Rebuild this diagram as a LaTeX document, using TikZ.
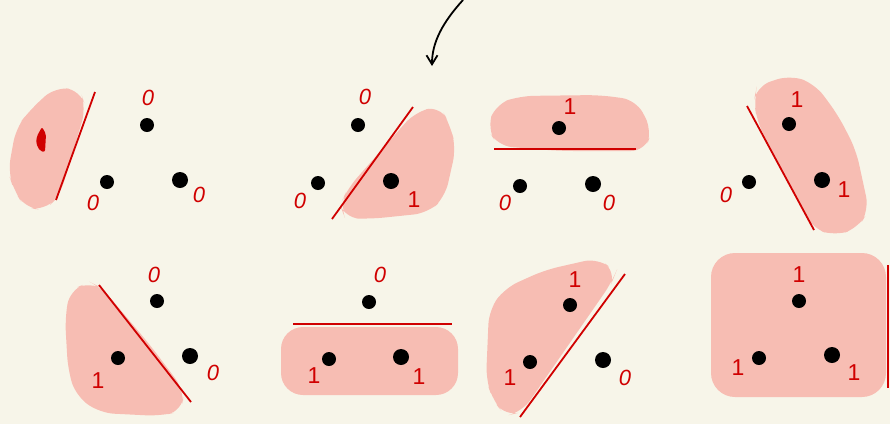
\documentclass[tikz,border=0pt]{standalone}
\usepackage{fontspec}
\setmainfont{Liberation Sans}
\usetikzlibrary{arrows.meta}

\definecolor{paper}{HTML}{F7F5E9}
\definecolor{blush}{HTML}{F7BDB3}
\definecolor{ink}{HTML}{D00000}

\begin{document}
\begin{tikzpicture}[
    x=1pt, y=-1pt,
    dot/.style={circle, fill=black, inner sep=0pt, minimum size=14pt},
    bigdot/.style={dot, minimum size=16pt},
    zero/.style={text=ink, inner sep=0pt, font=\fontsize{22}{22}\selectfont\itshape},
    one/.style={text=ink, inner sep=0pt, font=\fontsize{23}{23}\selectfont},
    cut/.style={draw=ink, line width=1.8pt},
    region/.style={fill=blush, rounded corners=14pt},
    arrow/.style={-{Straight Barb[length=9pt, width=11pt]}, line width=1.8pt, draw=black}
]
\fill[paper] (0,0) rectangle (890,424);
\useasboundingbox (0,0) rectangle (890,424);

% shaded half-planes
\fill[region] (30,110) -- (55,87) -- (80,90) -- (86,108) -- (60,195) -- (45,210) -- (25,208) -- (14,190) -- (8,172) -- (16,128) -- cycle;
\fill[region] (340,205) -- (348,188) -- (415,112) -- (440,106) -- (450,125) -- (456,148) -- (445,197) -- (428,213) -- (370,219) -- (345,218) -- cycle;
\fill[region] (496,104) -- (520,96) -- (600,95) -- (636,100) -- (652,130) -- (645,151) -- (560,151) -- (498,146) -- (487,128) -- cycle;
\fill[region] (757,86) -- (790,75) -- (815,84) -- (838,115) -- (856,150) -- (869,210) -- (858,228) -- (835,236) -- (812,228) -- (785,175) -- (757,122) -- (754,100) -- cycle;
\fill[region] (70,290) -- (90,282) -- (102,288) -- (150,345) -- (184,390) -- (182,411) -- (160,416) -- (100,413) -- (76,396) -- (68,370) -- (65,318) -- cycle;
\fill[region, rounded corners=22pt] (281,327) -- (458,327) -- (458,395) -- (281,395) -- cycle;
\fill[region] (505,288) -- (545,270) -- (598,258) -- (616,272) -- (612,282) -- (522,412) -- (505,416) -- (493,400) -- (486,380) -- (489,310) -- cycle;
\fill[region, rounded corners=24pt] (711,253) -- (886,253) -- (886,397) -- (711,397) -- cycle;

% red mark in the empty region
\fill[ink, rounded corners=2pt] (42,127) -- (46,134) -- (45,152) -- (40,151) -- (36,143) -- (37,136) -- cycle;

% separating lines
\draw[cut] (95,92) -- (56,200);
\draw[cut] (413,107) -- (332,219);
\draw[cut] (494,149) -- (636,149);
\draw[cut] (747,106) -- (814,230);
\draw[cut] (99,285) -- (191,402);
\draw[cut] (293,324) -- (452,324);
\draw[cut] (625,274) -- (520,417);
\draw[cut] (888,265) -- (888,388);

% points
\node[dot] (a1) at (147,125) {};
\node[dot] (b1) at (107,182) {};
\node[bigdot] (c1) at (180,180) {};
\node[dot] (a2) at (358,125) {};
\node[dot] (b2) at (318,183) {};
\node[bigdot] (c2) at (391,181) {};
\node[dot] (a3) at (559,128) {};
\node[dot] (b3) at (520,186) {};
\node[bigdot] (c3) at (593,184) {};
\node[dot] (a4) at (789,124) {};
\node[dot] (b4) at (749,182) {};
\node[bigdot] (c4) at (822,180) {};
\node[dot] (a5) at (157,301) {};
\node[dot] (b5) at (118,358) {};
\node[bigdot] (c5) at (190,356) {};
\node[dot] (a6) at (369,302) {};
\node[dot] (b6) at (329,359) {};
\node[bigdot] (c6) at (401,357) {};
\node[dot] (a7) at (570,305) {};
\node[dot] (b7) at (530,362) {};
\node[bigdot] (c7) at (603,360) {};
\node[dot] (a8) at (799,301) {};
\node[dot] (b8) at (759,358) {};
\node[bigdot] (c8) at (832,355) {};

% labels
\node[zero] (la1) at (148,98) {0};
\node[zero] (lb1) at (93,203) {0};
\node[zero] (lc1) at (199,195) {0};
\node[zero] (la2) at (365,97) {0};
\node[zero] (lb2) at (300,201) {0};
\node[one] (lc2) at (414,200) {1};
\node[one] (la3) at (570,107) {1};
\node[zero] (lb3) at (505,203) {0};
\node[zero] (lc3) at (609,203) {0};
\node[one] (la4) at (797,100) {1};
\node[zero] (lb4) at (726,195) {0};
\node[one] (lc4) at (844,190) {1};
\node[zero] (la5) at (154,275) {0};
\node[one] (lb5) at (98,381) {1};
\node[zero] (lc5) at (213,373) {0};
\node[zero] (la6) at (380,275) {0};
\node[one] (lb6) at (314,376) {1};
\node[one] (lc6) at (419,377) {1};
\node[one] (la7) at (575,280) {1};
\node[one] (lb7) at (510,378) {1};
\node[zero] (lc7) at (625,378) {0};
\node[one] (la8) at (799,275) {1};
\node[one] (lb8) at (738,368) {1};
\node[one] (lc8) at (854,373) {1};

% pointer
\coordinate (from) at (463,0);
\coordinate (to) at (432,66);
\draw[arrow] (from) .. controls (443,22) and (432,42) .. (to);

\end{tikzpicture}
\end{document}
